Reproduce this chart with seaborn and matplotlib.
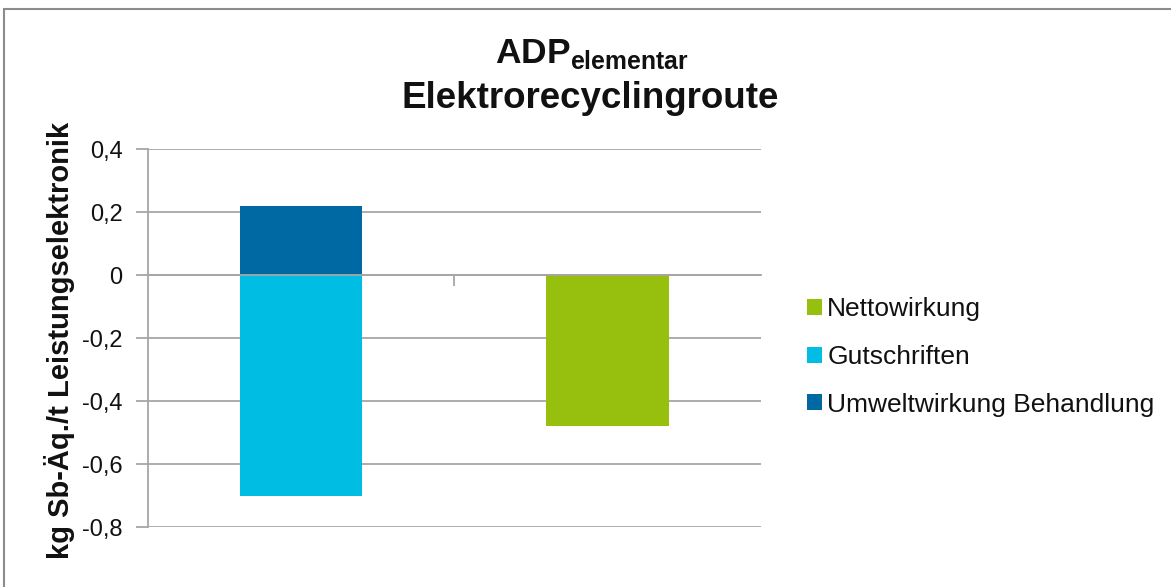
import matplotlib
matplotlib.use("Agg")
import matplotlib.pyplot as plt
from matplotlib.patches import Rectangle
from matplotlib.ticker import FixedLocator, FixedFormatter
import seaborn as sns
import pandas as pd

# Data (kg Sb-Äq. per t Leistungselektronik)
categories = ["Behandlung", "Netto"]
series = ["Umweltwirkung Behandlung", "Gutschriften", "Nettowirkung"]
bar_category = ["Behandlung", "Behandlung", "Netto"]
values = [0.22, -0.70, -0.48]
legend_order = ["Nettowirkung", "Gutschriften", "Umweltwirkung Behandlung"]
colors = {"Nettowirkung": "#97BF0D",
          "Gutschriften": "#00BEE3",
          "Umweltwirkung Behandlung": "#0069A4"}
y_ticks = [-0.8, -0.6, -0.4, -0.2, 0.0, 0.2, 0.4]
y_tick_labels = ["-0,8", "-0,6", "-0,4", "-0,2", "0", "0,2", "0,4"]

df = pd.DataFrame({"Kategorie": bar_category, "Reihe": series, "Wert": values})

sns.set_theme(style="white")
plt.rcParams["font.family"] = ["Liberation Sans", "DejaVu Sans"]
plt.rcParams["mathtext.fontset"] = "custom"
plt.rcParams["mathtext.bf"] = "Liberation Sans:bold"
plt.rcParams["mathtext.rm"] = "Liberation Sans"

grid_col = "#A6A6A6"
text_col = "#111111"

fig = plt.figure(figsize=(11.71, 5.87), dpi=100)
fig.patch.set_facecolor("white")
# outer chart frame (right and bottom edges run off the canvas)
fig.patches.append(Rectangle((4 / 1171, -0.05), 1.05, 1 - 9 / 587 + 0.05,
                             transform=fig.transFigure, fill=False,
                             edgecolor="#8C8C8C", linewidth=1.5))

ax = fig.add_axes([0.1261, 0.1017, 0.6500 - 0.1261, 0.7457 - 0.1017])

sns.barplot(data=df, x="Kategorie", y="Wert", hue="Reihe", order=categories,
            hue_order=legend_order, palette=colors, dodge=False, width=0.4,
            saturation=1, errorbar=None, ax=ax, linewidth=0)

ax.set_xlim(-0.5, 1.5)
ax.set_ylim(-0.8, 0.4)
ax.yaxis.set_major_locator(FixedLocator(y_ticks))
ax.yaxis.set_major_formatter(FixedFormatter(y_tick_labels))
ax.yaxis.grid(True, color=grid_col, linewidth=1.3)
ax.set_axisbelow(True)

for s in ["top", "right"]:
    ax.spines[s].set_visible(False)
ax.spines["left"].set_color(grid_col)
ax.spines["left"].set_linewidth(1.3)
ax.spines["bottom"].set_position(("data", 0))
ax.spines["bottom"].set_color(grid_col)
ax.spines["bottom"].set_linewidth(1.3)

ax.tick_params(axis="y", which="major", direction="out", length=9, width=1.3,
               color=grid_col, left=True, labelsize=17, pad=9, labelcolor=text_col)
ax.set_xticks([])
ax.xaxis.set_minor_locator(FixedLocator([0.5]))
ax.tick_params(axis="x", which="minor", direction="out", length=8, width=1.3,
               color=grid_col, bottom=True)
ax.set_xlabel("")
ax.set_ylabel("kg Sb-Äq./t Leistungselektronik", fontsize=21, fontweight="bold",
              color=text_col)
ax.yaxis.set_label_coords(-0.1185, 0.495)

handles, labels = ax.get_legend_handles_labels()
ax.legend(handles, labels, loc="center left", bbox_to_anchor=(807 / 1171, 1 - 357 / 587),
          bbox_transform=fig.transFigure, frameon=False, fontsize=19,
          handlelength=0.55, handleheight=0.55, handletextpad=0.22, labelspacing=0.9,
          borderaxespad=0, borderpad=0, labelcolor=text_col)

fig.text(0.505, 1 - 54 / 587, r"$\mathbf{ADP}_{\mathbf{elementar}}$", ha="center",
         va="center", fontsize=25.5, color=text_col)
fig.text(0.504, 1 - 99 / 587, "Elektrorecyclingroute", ha="center", va="center",
         fontsize=26.5, fontweight="bold", color=text_col)

fig.savefig("out.png", dpi=100, facecolor="white")
